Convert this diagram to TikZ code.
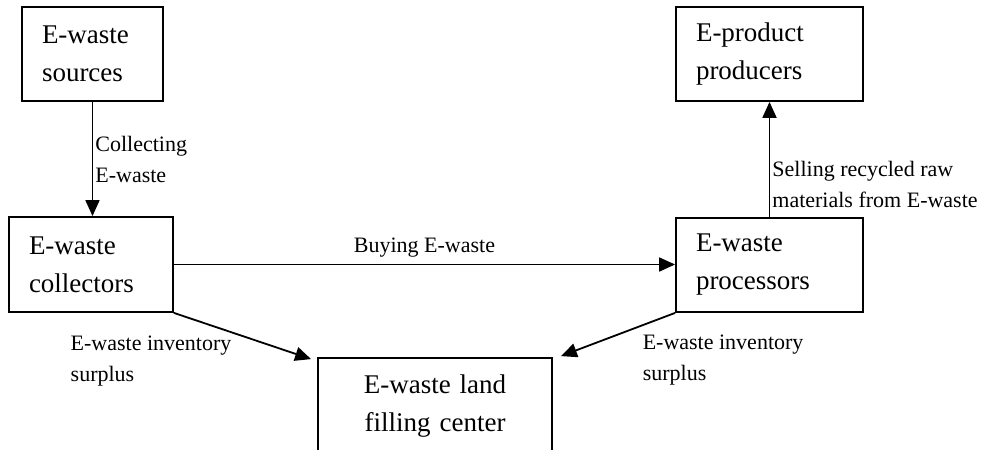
\documentclass[tikz,border=0pt]{standalone}
\usepackage{fontspec}
\setmainfont{Liberation Serif}
\usetikzlibrary{arrows.meta, positioning}

\begin{document}
\begin{tikzpicture}[
  x=1pt, y=-1pt,
  box/.style={rectangle, draw=black, line width=1.8pt, align=left,
              inner xsep=20pt, inner ysep=0pt,
              font=\fontsize{27}{38}\selectfont},
  lbl/.style={font=\fontsize{22}{31}\selectfont, align=left, inner sep=2pt},
  arrow/.style={-{Triangle[length=16pt, width=14pt]}, line width=1.8pt}
]
\useasboundingbox (0,0) rectangle (997,450);
\fill[white] (0,0) rectangle (997,450);

\node[box, text width=101pt, minimum height=94pt] (sources) at (92.5,54) {E-waste\\sources};
\node[box, text width=124pt, minimum height=95pt] (collectors) at (91,264.5) {E-waste\\collectors};
\node[box, text width=147pt, minimum height=94pt] (producers) at (769.5,54) {E-product\\producers};
\node[box, text width=147pt, minimum height=94pt] (processors) at (769.5,265) {E-waste\\processors};
\node[box, text width=194pt, minimum height=96pt, align=center] (landfill) at (435,406) {E-waste land\\filling center};

\draw[arrow] (sources.south) -- (sources.south |- collectors.north)
  node[lbl, midway, right] {Collecting\\E-waste};
\draw[arrow] (collectors.east) -- (collectors.east -| processors.west)
  node[lbl, midway, above=4pt] {Buying E-waste};
\draw[arrow] (processors.north) -- (producers.south)
  node[lbl, pos=0.28, right] {Selling recycled raw\\materials from E-waste};
\draw[arrow] (collectors.south east) -- ([xshift=-6pt, yshift=-2pt]landfill.north west)
  node[lbl, pos=0.44, anchor=north east] {E-waste inventory\\surplus};
\draw[arrow] (processors.south west) -- ([xshift=8pt, yshift=1pt]landfill.north east)
  node[lbl, pos=0.44, anchor=north west, xshift=15pt] {E-waste inventory\\surplus};
\end{tikzpicture}
\end{document}
